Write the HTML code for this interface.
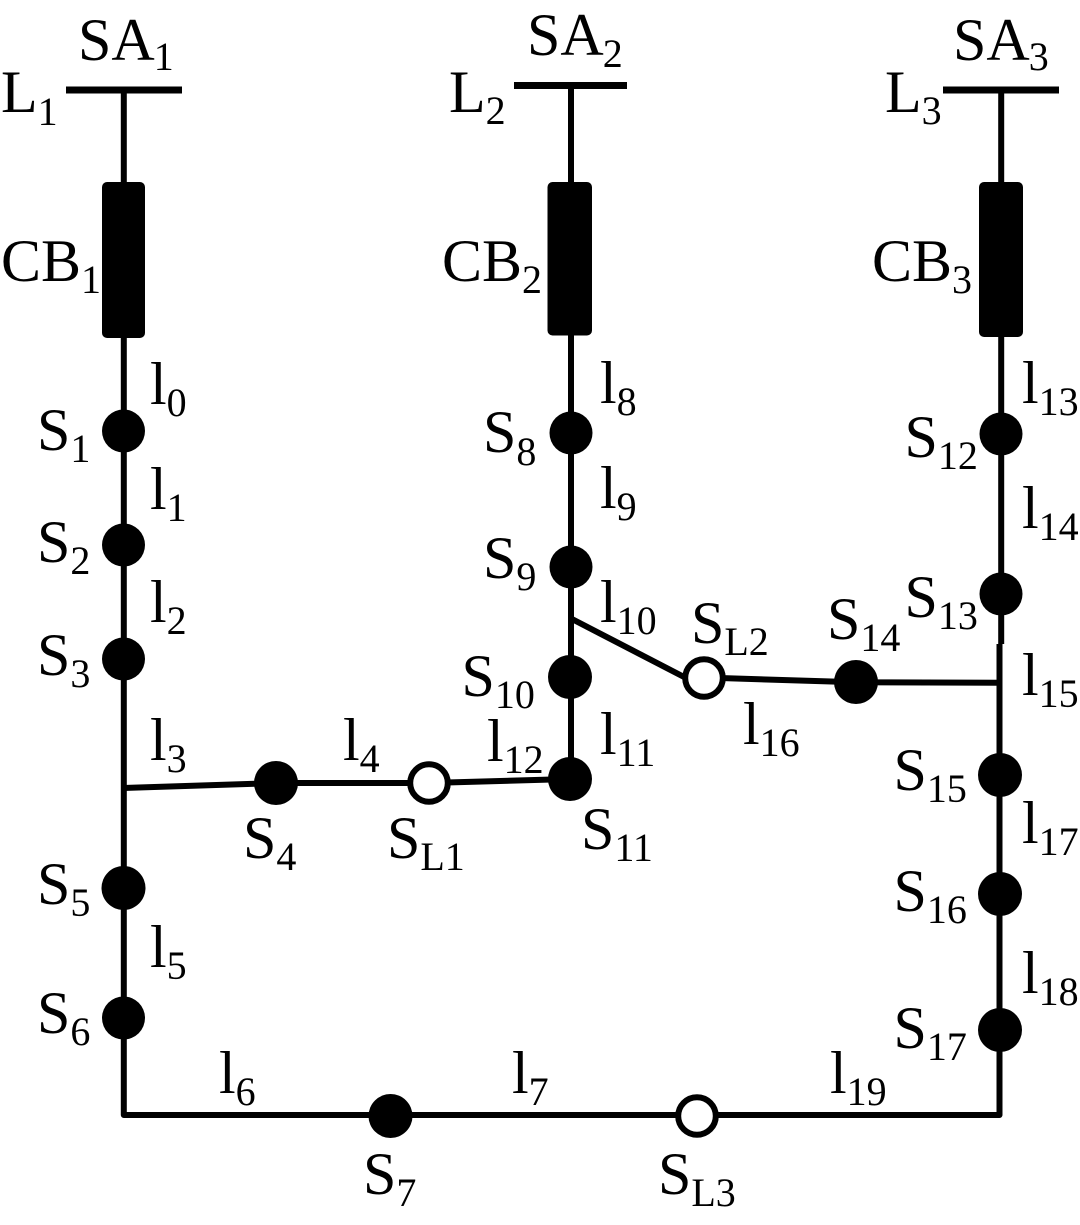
<!DOCTYPE html>
<html>
<head>
<meta charset="utf-8">
<style>
html,body{margin:0;padding:0;background:#fff;}
svg{display:block;}
text{font-family:"Liberation Serif",serif;font-size:60px;fill:#000;}
tspan{font-size:40px;}
</style>
</head>
<body>
<svg width="1080" height="1225" viewBox="0 0 1080 1225" xmlns="http://www.w3.org/2000/svg">
<g stroke="#000" stroke-width="6" fill="none" stroke-linejoin="round" stroke-linecap="butt">
<path stroke-width="7" d="M66 90H182"/>
<path stroke-width="7" d="M514 85.500H627"/>
<path stroke-width="7" d="M943 90H1059"/>
<path d="M123.800 90V1115H999.500V644"/>
<path d="M1001.200 90V644"/>
<path d="M571 86V779"/>
<path d="M123.800 788L276 783H429L570 779"/>
<path d="M571 618.500L686 678"/>
<path d="M704 677.500L856 682.300L1000 682.800"/>
</g>
<g fill="#000">
<rect x="102" y="182" width="43" height="156" rx="5"/>
<rect x="547.500" y="182" width="44.500" height="153.500" rx="5"/>
<rect x="979" y="182" width="44" height="155" rx="5"/>
<circle cx="123.500" cy="431" r="21.500"/>
<circle cx="123.500" cy="545" r="21.500"/>
<circle cx="123.500" cy="659" r="21.500"/>
<circle cx="276" cy="783" r="22"/>
<circle cx="123.500" cy="888" r="22"/>
<circle cx="123.500" cy="1018" r="21.500"/>
<circle cx="390.500" cy="1116" r="22"/>
<circle cx="571" cy="433" r="21.500"/>
<circle cx="571" cy="567" r="21.500"/>
<circle cx="570" cy="677" r="22"/>
<circle cx="570" cy="779" r="22"/>
<circle cx="856" cy="682" r="22"/>
<circle cx="1001" cy="434" r="21.500"/>
<circle cx="1001" cy="594" r="21.500"/>
<circle cx="1000" cy="775" r="22"/>
<circle cx="1000" cy="894" r="22"/>
<circle cx="1000" cy="1030" r="22"/>
</g>
<g fill="#fff" stroke="#000" stroke-width="6">
<circle cx="429" cy="783" r="18.800"/>
<circle cx="704" cy="678" r="18.800"/>
<circle cx="697" cy="1116" r="18.800"/>
</g>
<text x="78" y="60">SA<tspan dy="10" dx="-1">1</tspan></text>
<text x="1" y="112">L<tspan dy="13">1</tspan></text>
<text x="1" y="281">CB<tspan dy="12">1</tspan></text>
<text x="527" y="55">SA<tspan dy="12" dx="-1">2</tspan></text>
<text x="449" y="112">L<tspan dy="12">2</tspan></text>
<text x="442" y="281">CB<tspan dy="12">2</tspan></text>
<text x="953" y="60">SA<tspan dy="10" dx="-1">3</tspan></text>
<text x="885" y="112">L<tspan dy="12">3</tspan></text>
<text x="872" y="281">CB<tspan dy="12">3</tspan></text>

<text x="37" y="450">S<tspan dy="12">1</tspan></text>
<text x="37" y="562">S<tspan dy="12">2</tspan></text>
<text x="37" y="675">S<tspan dy="12">3</tspan></text>
<text x="243" y="858">S<tspan dy="12">4</tspan></text>
<text x="387" y="858">S<tspan dy="12">L1</tspan></text>
<text x="37" y="904">S<tspan dy="12">5</tspan></text>
<text x="37" y="1033">S<tspan dy="12">6</tspan></text>
<text x="363" y="1194">S<tspan dy="12">7</tspan></text>
<text x="483" y="452">S<tspan dy="13">8</tspan></text>
<text x="483" y="578">S<tspan dy="12">9</tspan></text>
<text x="461.500" y="696">S<tspan dy="12">10</tspan></text>
<text x="581" y="849">S<tspan dy="12">11</tspan></text>
<text x="904.500" y="457">S<tspan dy="12">12</tspan></text>
<text x="904.500" y="617">S<tspan dy="12">13</tspan></text>
<text x="827" y="639">S<tspan dy="12">14</tspan></text>
<text x="893.500" y="790">S<tspan dy="12">15</tspan></text>
<text x="893.500" y="911">S<tspan dy="12">16</tspan></text>
<text x="893.500" y="1048">S<tspan dy="12">17</tspan></text>
<text x="691" y="643">S<tspan dy="12">L2</tspan></text>
<text x="658" y="1194">S<tspan dy="12">L3</tspan></text>

<text x="150" y="404">l<tspan dy="12">0</tspan></text>
<text x="150" y="509">l<tspan dy="12">1</tspan></text>
<text x="150" y="622">l<tspan dy="12">2</tspan></text>
<text x="150" y="760">l<tspan dy="12">3</tspan></text>
<text x="343" y="760">l<tspan dy="12">4</tspan></text>
<text x="150" y="967">l<tspan dy="12">5</tspan></text>
<text x="219" y="1093">l<tspan dy="12">6</tspan></text>
<text x="512" y="1093">l<tspan dy="12">7</tspan></text>
<text x="600" y="403">l<tspan dy="12">8</tspan></text>
<text x="600" y="508">l<tspan dy="12">9</tspan></text>
<text x="600" y="622">l<tspan dy="12">10</tspan></text>
<text x="600" y="754">l<tspan dy="12">11</tspan></text>
<text x="487" y="761">l<tspan dy="12">12</tspan></text>
<text x="1022" y="403">l<tspan dy="12">13</tspan></text>
<text x="1022" y="528">l<tspan dy="12">14</tspan></text>
<text x="1022" y="695">l<tspan dy="12">15</tspan></text>
<text x="743" y="744">l<tspan dy="12">16</tspan></text>
<text x="1022" y="843">l<tspan dy="12">17</tspan></text>
<text x="1022" y="993">l<tspan dy="12">18</tspan></text>
<text x="830" y="1093">l<tspan dy="12">19</tspan></text>
</svg>
</body>
</html>
